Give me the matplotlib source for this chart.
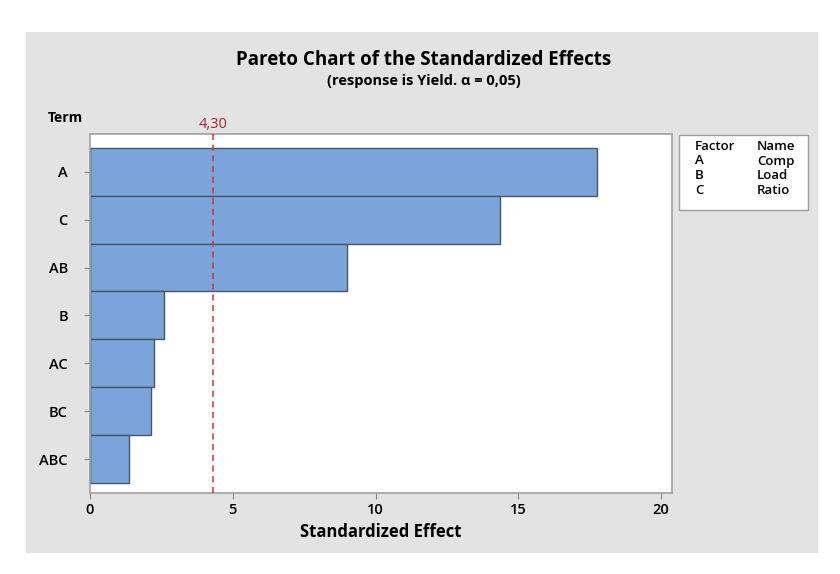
import matplotlib.pyplot as plt
from matplotlib.patches import Rectangle

terms = ["A", "C", "AB", "B", "AC", "BC", "ABC"]
effects = [17.75, 14.35, 9.0, 2.6, 2.25, 2.15, 1.35]
ref_value = 4.30
factors = ["A", "B", "C"]
names = ["Comp", "Load", "Ratio"]

W, H = 840, 574
plt.rcParams['font.family'] = ['Open Sans', 'DejaVu Sans']

fig = plt.figure(figsize=(W / 100, H / 100), dpi=100)
fig.patch.set_facecolor("white")

# grey panel behind everything
fig.patches.append(Rectangle((26 / W, 1 - 553 / H), (818 - 26) / W, (553 - 32) / H,
                             transform=fig.transFigure, facecolor="#e3e3e3",
                             edgecolor="none", zorder=-5))

ax = fig.add_axes([90 / W, 1 - 493 / H, (672 - 90) / W, (493 - 134) / H])
ax.set_zorder(2)
ax.set_facecolor("white")

n = len(terms)
ypos = list(range(n - 1, -1, -1))
ax.barh(ypos, effects, height=1.0, color="#7ba5da", edgecolor="#475566", linewidth=1.0, zorder=2)
ax.axvline(ref_value, color="#c8353a", linestyle=(0, (4, 3)), linewidth=1.1, zorder=3)

ax.set_xlim(0, 20.38)
ax.set_ylim(-0.71, n - 0.5 + 0.29)
ax.set_yticks(ypos)
ax.set_yticklabels(terms, fontsize=10.5, fontweight="semibold")
ax.set_xticks([0, 5, 10, 15, 20])
ax.tick_params(axis="x", labelsize=10.5, length=4, color="#888888")
ax.tick_params(axis="y", length=4, color="#888888", pad=12)
for lbl in ax.get_xticklabels():
    lbl.set_fontweight("semibold")
for s in ax.spines.values():
    s.set_color("#a0a0a0")
    s.set_linewidth(1.2)

ax.set_xlabel("Standardized Effect", fontsize=12, fontweight="bold", labelpad=4)

ax.text(ref_value, 1.005, "4,30", transform=ax.get_xaxis_transform(), color="#a3262b",
        ha="center", va="bottom", fontsize=10.5)

fig.text(48 / W, 1 - 118 / H, "Term", fontsize=10, fontweight="bold", ha="left", va="center")
fig.text(424 / W, 1 - 60 / H, "Pareto Chart of the Standardized Effects",
         fontsize=13.5, fontweight="bold", ha="center", va="center")
fig.text(424 / W, 1 - 81 / H, "(response is Yield. \u03b1 = 0,05)",
         fontsize=10.5, fontweight="bold", ha="center", va="center")

# factor legend box
fig.patches.append(Rectangle((679 / W, 1 - 210 / H), (808 - 679) / W, (210 - 135) / H,
                             transform=fig.transFigure, facecolor="white",
                             edgecolor="#a0a0a0", linewidth=1.0, zorder=1))
rows = [("Factor", "Name")] + list(zip(factors, names))
for i, (f, nm) in enumerate(rows):
    y = 1 - (146 + i * 15) / H
    fig.text(695 / W, y, f, fontsize=9.5, fontweight="semibold", ha="left", va="center", zorder=2)
    fig.text(757 / W, y, nm, fontsize=9.5, fontweight="semibold", ha="left", va="center", zorder=2)

plt.savefig("out.png", dpi=100)
